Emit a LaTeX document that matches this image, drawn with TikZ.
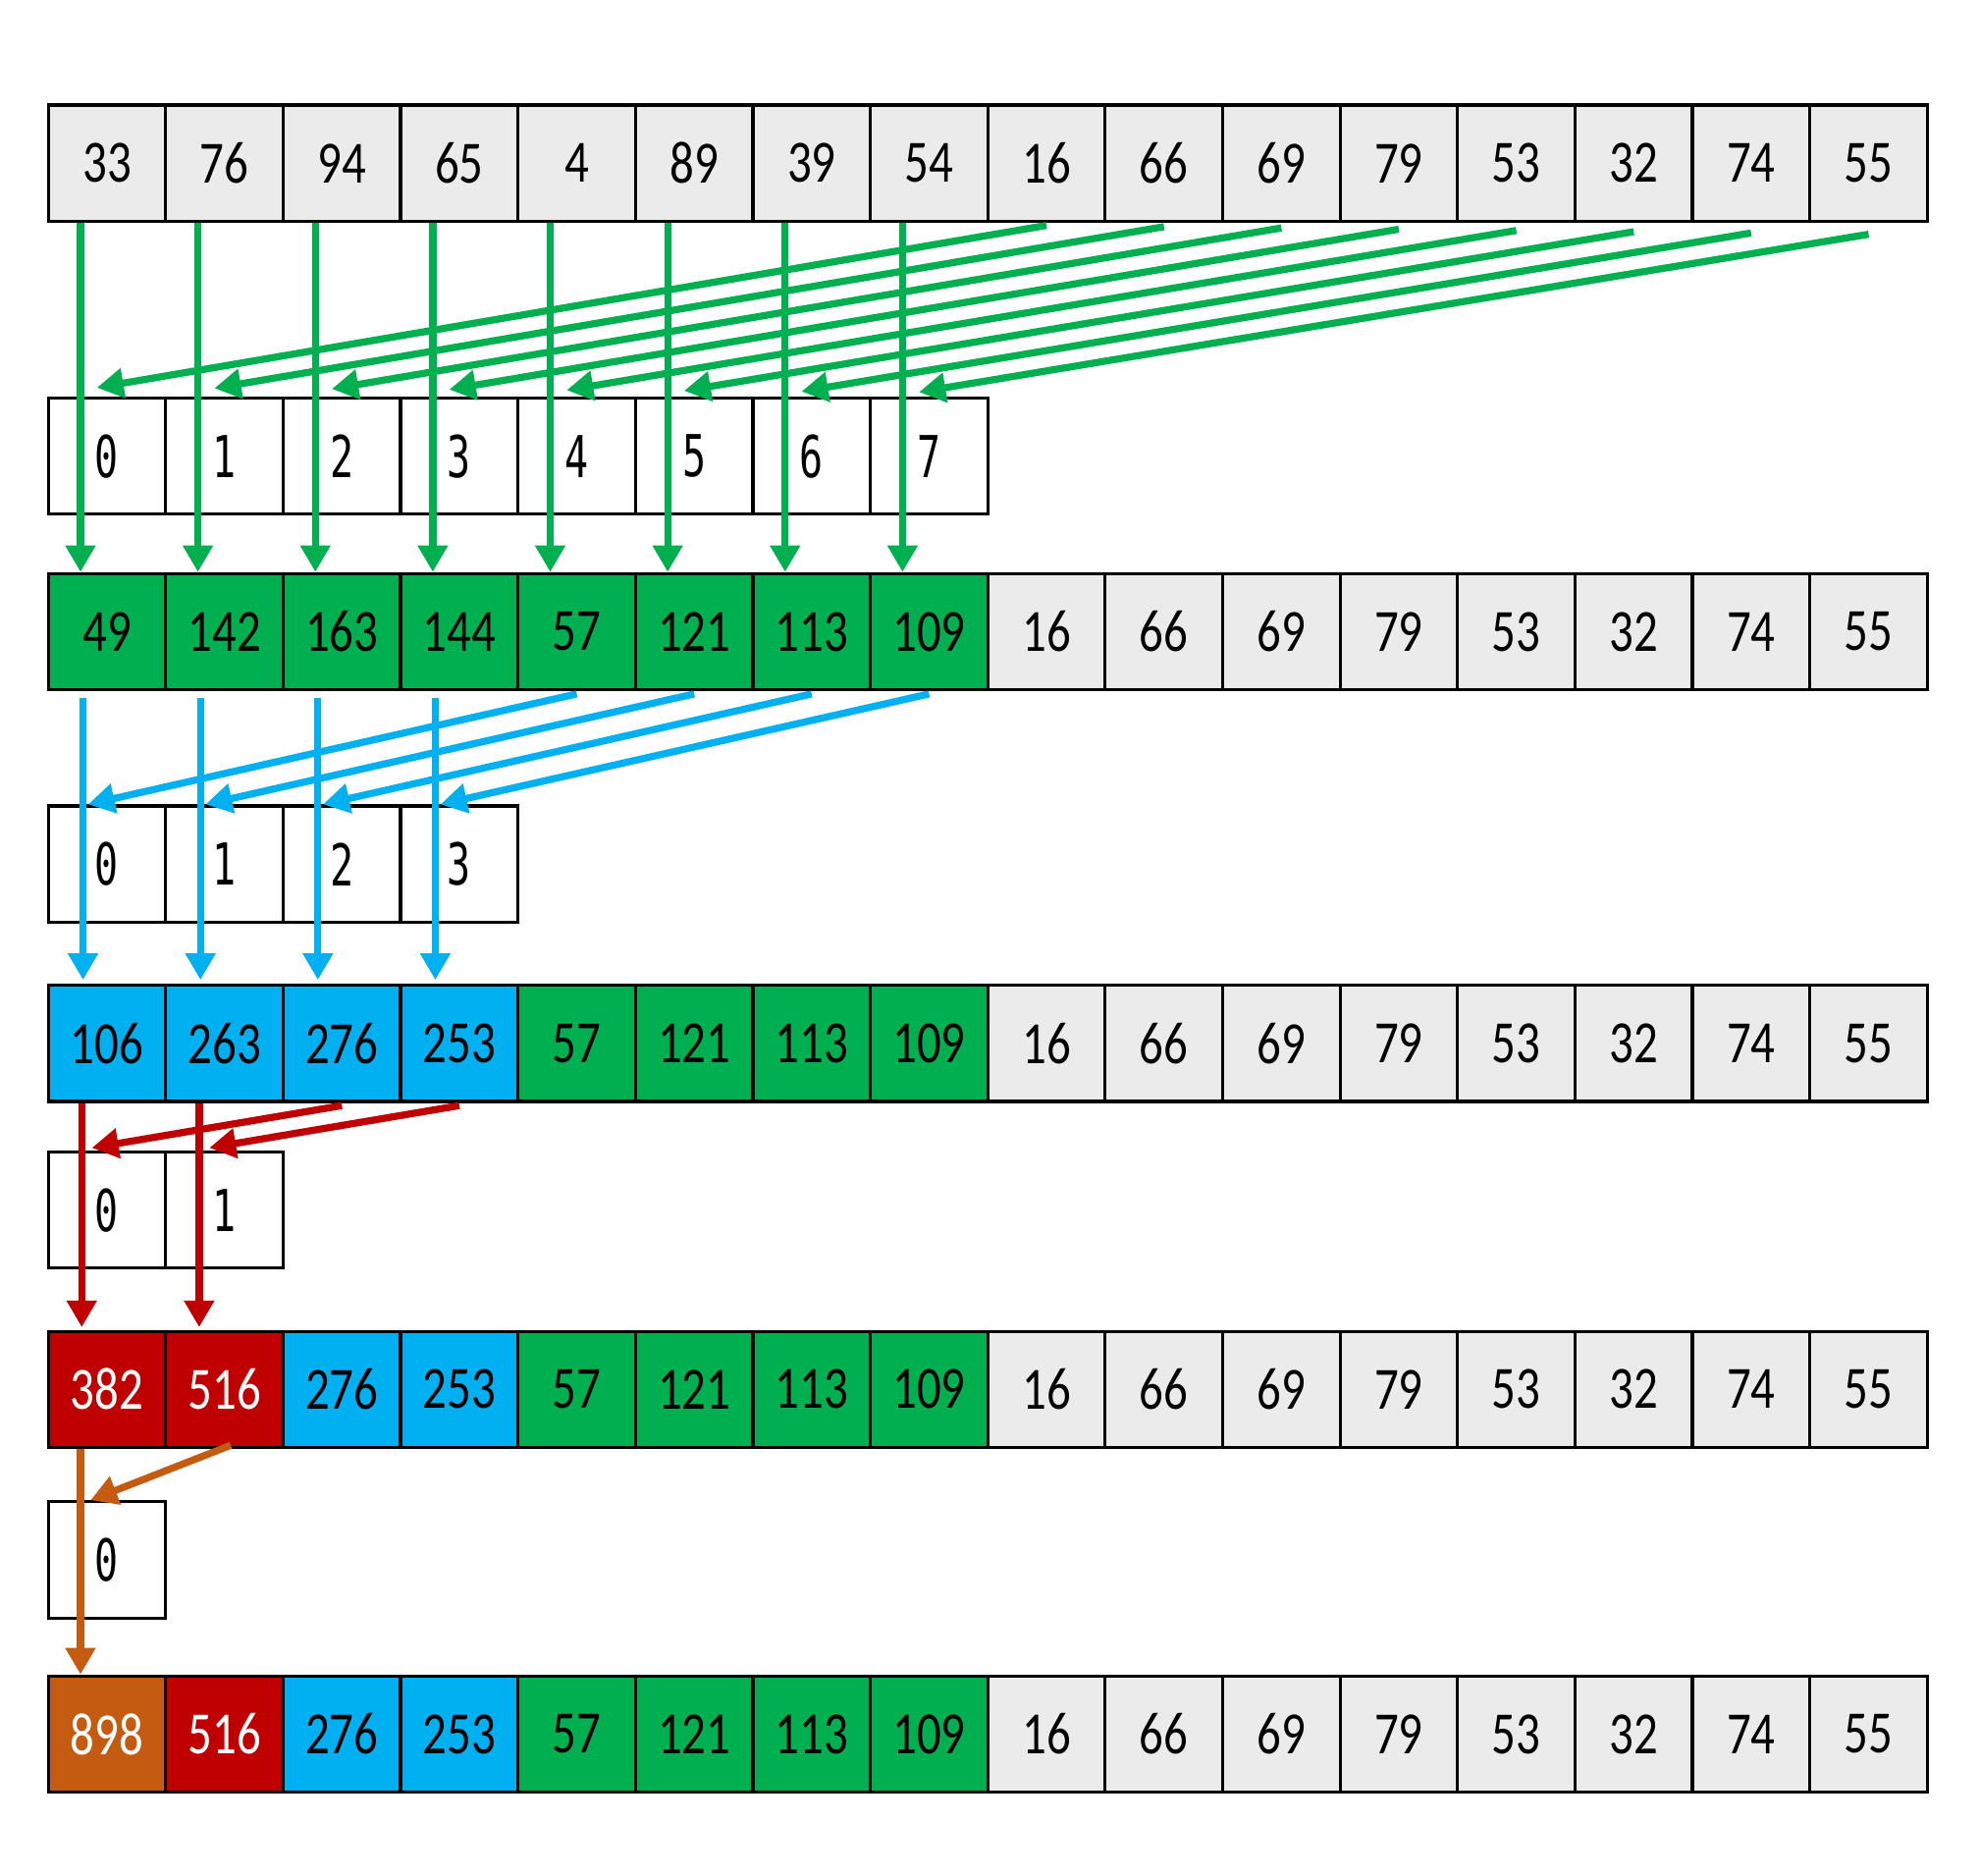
\documentclass[tikz,border=0pt]{standalone}
\usepackage{fontspec}
\setmainfont{Carlito}[FakeStretch=0.8]
\newfontfamily\idxfont{DejaVu Sans Mono}[FakeStretch=0.68]
\usetikzlibrary{arrows.meta}
\definecolor{cellgray}{HTML}{EBEBEB}
\definecolor{pgreen}{HTML}{00B050}
\definecolor{pblue}{HTML}{00B0F0}
\definecolor{pred}{HTML}{C00000}
\definecolor{porange}{HTML}{C55A11}

\begin{document}
\begin{tikzpicture}[
    x=0.01cm, y=-0.01cm,
    cell/.style={draw, line width=0.7pt, minimum width=0.93cm, minimum height=0.92cm,
      inner sep=0pt, anchor=north west, font=\fontsize{13.5}{16}\selectfont},
    gray/.style={fill=cellgray},
    gcell/.style={fill=pgreen},
    bcell/.style={fill=pblue},
    rcell/.style={fill=pred, text=white},
    ocell/.style={fill=porange, text=white},
    idx/.style={cell, fill=white, font=\idxfont\fontsize{13}{15}\selectfont},
    push/.style={-{Triangle[length=6pt, width=6.5pt]}, line width=1.6pt}
]
\useasboundingbox (0,0) rectangle (1568,1485);

% input row
\foreach \v [count=\i from 0] in {33,76,94,65,4,89,39,54,16,66,69,79,53,32,74,55}
  \node[cell, gray] (a\i) at (37+93*\i,82) {\v};

% rows after each pass
\foreach \v/\s [count=\i from 0] in {49/gcell,142/gcell,163/gcell,144/gcell,57/gcell,121/gcell,113/gcell,109/gcell}
  \node[cell, \s] (b\i) at (37+93*\i,453) {\v};
\foreach \v/\s [count=\i from 0] in {106/bcell,263/bcell,276/bcell,253/bcell,57/gcell,121/gcell,113/gcell,109/gcell}
  \node[cell, \s] (c\i) at (37+93*\i,779) {\v};
\foreach \v/\s [count=\i from 0] in {382/rcell,516/rcell,276/bcell,253/bcell,57/gcell,121/gcell,113/gcell,109/gcell}
  \node[cell, \s] (d\i) at (37+93*\i,1053) {\v};
\foreach \v/\s [count=\i from 0] in {898/ocell,516/rcell,276/bcell,253/bcell,57/gcell,121/gcell,113/gcell,109/gcell}
  \node[cell, \s] (e\i) at (37+93*\i,1326) {\v};

% untouched tail
\foreach \r/\y in {b/453,c/779,d/1053,e/1326}
  \foreach \v [count=\i from 8] in {16,66,69,79,53,32,74,55}
    \node[cell, gray] (\r\i) at (37+93*\i,\y) {\v};

% index rows
\foreach \i in {0,...,7}
  \node[idx] (p\i) at (37+93*\i,314) {\i};
\foreach \i in {0,...,3}
  \node[idx] (q\i) at (37+93*\i,637) {\i};
\foreach \i in {0,1}
  \node[idx] (s\i) at (37+93*\i,911) {\i};
\node[idx] (t0) at (37,1188) {0};

% pass 1
\foreach \i [evaluate=\i as \j using int(\i+8)] in {0,...,7} {
  \draw[push, pgreen] ([xshift=-0.21cm]a\i.south) -- ([xshift=-0.21cm]b\i.north);
  \draw[push, pgreen] ([yshift=-0.02cm-0.01cm*\i]a\j.south) -- ([xshift=-0.08cm, yshift=0.07cm-0.005cm*\i]p\i.north);
}
% pass 2
\foreach \i [evaluate=\i as \j using int(\i+4)] in {0,...,3} {
  \draw[push, pblue] ([xshift=-0.19cm, yshift=-0.05cm]b\i.south) -- ([xshift=-0.19cm, yshift=0.03cm]c\i.north);
  \draw[push, pblue] ([yshift=-0.02cm]b\j.south) -- ([xshift=-0.15cm]q\i.north);
}
% pass 3
\foreach \i [evaluate=\i as \j using int(\i+2)] in {0,1} {
  \draw[push, pred] ([xshift=-0.2cm]c\i.south) -- ([xshift=-0.2cm, yshift=0.02cm]d\i.north);
  \draw[push, pred] ([yshift=-0.02cm]c\j.south) -- ([xshift=-0.12cm, yshift=0.02cm]s\i.north);
}
% pass 4
\draw[push, porange] ([xshift=-0.21cm]d0.south) -- ([xshift=-0.21cm]e0.north);
\draw[push, porange] ([xshift=0.05cm, yshift=0.03cm]d1.south) -- ([xshift=-0.13cm]t0.north);
\end{tikzpicture}
\end{document}
